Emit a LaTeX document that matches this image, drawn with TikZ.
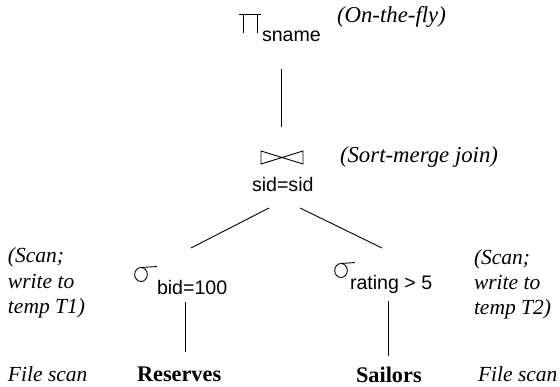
\documentclass[tikz,border=0pt]{standalone}
\usepackage{fontspec}
\setmainfont{Liberation Serif}
\newfontfamily\lsans{Liberation Sans}
\begin{document}
\begin{tikzpicture}[x=1pt,y=-1pt,
  every node/.style={inner sep=0pt, outer sep=0pt},
  sanslbl/.style={font=\lsans\fontsize{19.6}{22}\selectfont, anchor=base west},
  notelbl/.style={font=\itshape\fontsize{21.5}{25}\selectfont, anchor=base west},
  toplbl/.style={font=\itshape\fontsize{22.8}{25}\selectfont, anchor=base west},
  rellbl/.style={font=\bfseries\fontsize{22.3}{25}\selectfont, anchor=base west},
  edge/.style={line width=0.9pt},
  sym/.style={line width=0.9pt}]
\useasboundingbox (0,0) rectangle (560,387);

% projection
\draw[sym] (243,33) -- (243,14) (239,14) -- (261,14) (257,14) -- (257,33);
\node[sanslbl] (proj) at (262,42) {sname};
\node[toplbl] (otf) at (337,23) {(On-the-fly)};

% join
\draw[sym] (261,151) -- (261,164) -- (303,151) -- (303,164) -- cycle;
\node[sanslbl] (join) at (252,192) {sid=sid};
\node[toplbl] (smj) at (340,163) {(Sort-merge join)};

% selections
\draw[sym] (141,274.5) ellipse (6.3 and 7);
\draw[sym] (141,267.5) -- (157,266.5);
\node[sanslbl] (selL) at (157,295) {bid=100};
\draw[sym] (341,270.5) ellipse (6.3 and 7);
\draw[sym] (341,263.5) -- (355,262.5);
\node[sanslbl] (selR) at (350,290) {rating > 5};

% relations
\node[rellbl] (res) at (137,381.5) {Reserves};
\node[rellbl] (sai) at (356,382.5) {Sailors};

% notes
\node[notelbl] (nL1) at (8,263) {(Scan;};
\node[notelbl] (nL2) at (8,289) {write to};
\node[notelbl] (nL3) at (8,314) {temp T1)};
\node[notelbl] (fL) at (8,381.5) {File scan};
\node[notelbl] (nR1) at (474,265) {(Scan;};
\node[notelbl] (nR2) at (474,290) {write to};
\node[notelbl] (nR3) at (474,315) {temp T2)};
\node[notelbl] (fR) at (478,381.5) {File scan};

% connectors
\coordinate (projS) at (281,69);
\coordinate (joinN) at (281,127);
\coordinate (joinSL) at (269,208);
\coordinate (joinSR) at (300,208);
\coordinate (selLN) at (191,248);
\coordinate (selRN) at (382,248);
\coordinate (selLS) at (185,302);
\coordinate (resN) at (185,352);
\coordinate (selRS) at (388,301);
\coordinate (saiN) at (388,356);
\draw[edge] (projS) -- (joinN);
\draw[edge] (joinSL) -- (selLN);
\draw[edge] (joinSR) -- (selRN);
\draw[edge] (selLS) -- (resN);
\draw[edge] (selRS) -- (saiN);
\end{tikzpicture}
\end{document}
